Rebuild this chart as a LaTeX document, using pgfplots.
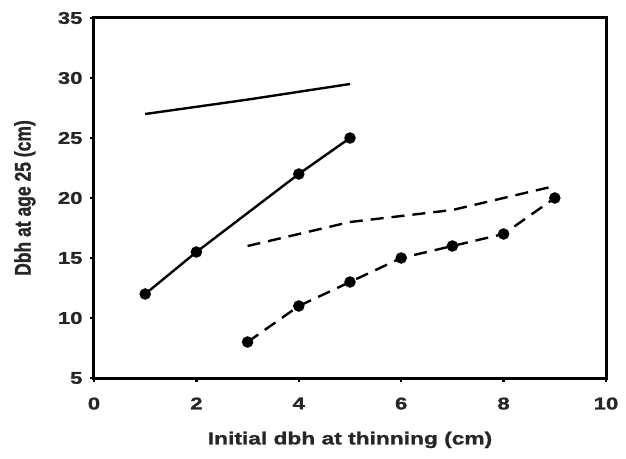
\documentclass[border=0pt]{standalone}
\usepackage{fontspec}
\setmainfont{Liberation Sans}
\newfontfamily\widefont[FakeStretch=1.3,FakeBold=1.2]{Liberation Sans}
\newfontfamily\heavyfont[FakeBold=1.2]{Liberation Sans}
\usepackage{graphicx}
\usepackage{pgfplots}
\pgfplotsset{compat=1.18}
\usetikzlibrary{calc}
\begin{document}
\begin{tikzpicture}
\begin{axis}[
  width=512pt, height=360pt, scale only axis,
  xmin=0, xmax=10, ymin=5, ymax=35,
  xtick={0,2,...,10}, ytick={5,10,...,35},
  tick align=outside, xtick pos=bottom, ytick pos=left,
  major tick length=4pt,
  axis line style={line width=3pt}, every tick/.style={line width=2.4pt, black},
  tick label style={font=\widefont\bfseries\fontsize{17}{19}\selectfont, text=black!85},
  xticklabel style={yshift=-12pt},
  yticklabel style={xshift=-4pt},
  /pgf/number format/assume math mode=true,
  xlabel={Initial dbh at thinning (cm)},
  ylabel={\scalebox{1}[1.3]{Dbh at age 25 (cm)}},
  label style={font=\widefont\bfseries\fontsize{17.5}{19}\selectfont, text=black!85},
  xlabel style={at={(axis description cs:0.5,-0.172)}, anchor=center},
  ylabel style={at={(axis description cs:-0.135,0.5)}, anchor=center, font=\heavyfont\bfseries\fontsize{17.5}{19}\selectfont},
  every axis plot/.append style={line width=2.4pt, black},
]
\addplot[no marks] coordinates {(1,27) (3,28.2) (5,29.5)};
\addplot[mark=*, mark size=4.5pt] coordinates {(1,12) (2,15.5) (4,22) (5,25)};
\addplot[no marks, dash pattern=on 13pt off 8pt] coordinates {(3,16) (5,18) (7,19) (9,21)};
\addplot[mark=*, mark size=4.5pt, dash pattern=on 13pt off 8pt, mark options={solid}] coordinates {(3,8) (4,11) (5,13) (6,15) (7,16) (8,17) (9,20)};
\end{axis}
\pgfresetboundingbox
\path ($(current axis.south west)+(-94pt,-80pt)$) rectangle ($(current axis.north east)+(20pt,18pt)$);
\end{tikzpicture}
\end{document}
